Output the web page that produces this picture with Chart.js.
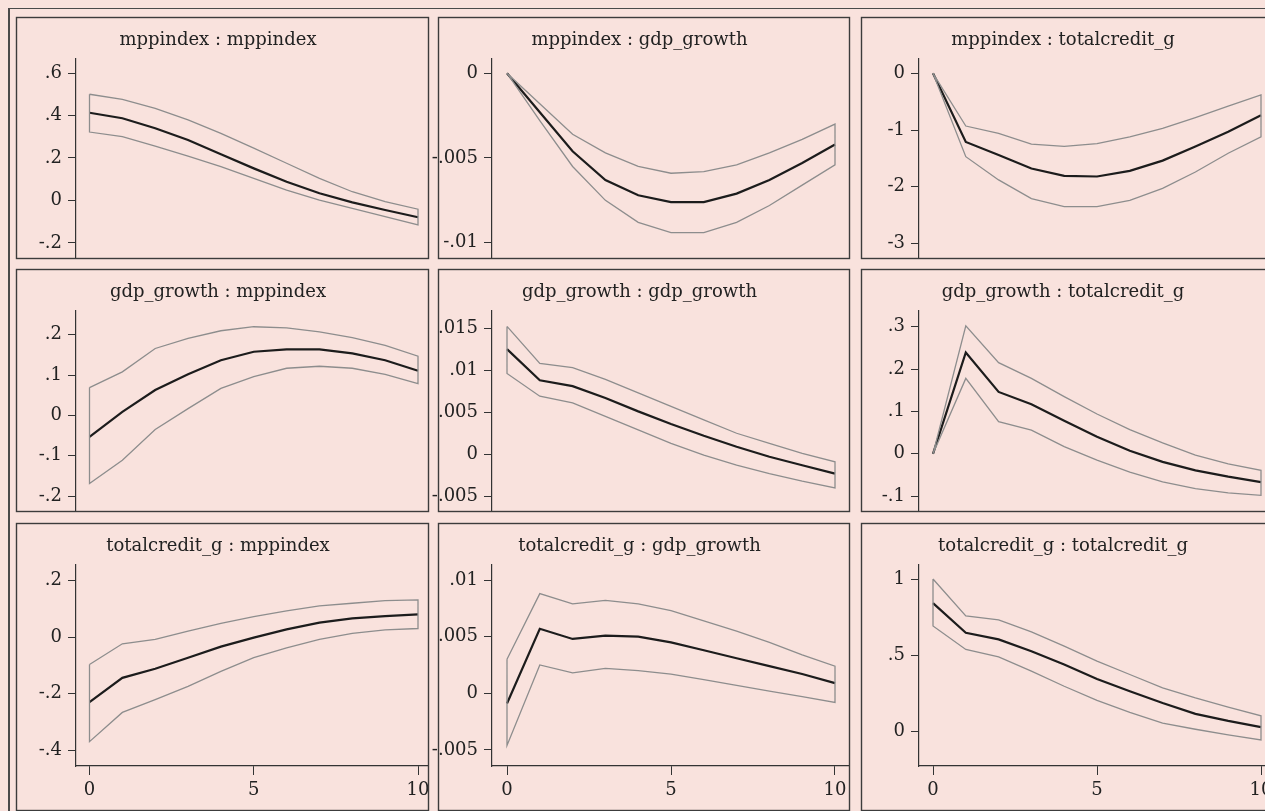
<!DOCTYPE html>
<html>
<head>
<meta charset="utf-8">
<script src="https://cdn.jsdelivr.net/npm/chart.js@4.4.1/dist/chart.umd.min.js"></script>
<style>
  html, body { margin: 0; padding: 0; background: #f9e2dd; }
  body { width: 1265px; height: 811px; position: relative; overflow: hidden; }
  #outer { position: absolute; left: 8px; top: 8px; width: 1400px; height: 900px;
           border-left: 2px solid #4a4a4a; border-top: 1.5px solid #4a4a4a; }
  canvas { position: absolute; }
</style>
</head>
<body>
<div id="outer"></div>
<script>
// horizon steps
const steps = [0, 1, 2, 3, 4, 5, 6, 7, 8, 9, 10];
const xTicks = [0, 5, 10];

// impulse : response titles (row = impulse, column = response)
const titles = [
  "mppindex : mppindex", "mppindex : gdp_growth", "mppindex : totalcredit_g",
  "gdp_growth : mppindex", "gdp_growth : gdp_growth", "gdp_growth : totalcredit_g",
  "totalcredit_g : mppindex", "totalcredit_g : gdp_growth", "totalcredit_g : totalcredit_g"
];

// mppindex -> mppindex
const irf_11 = [0.413, 0.387, 0.340, 0.285, 0.217, 0.151, 0.088, 0.034, -0.009, -0.045, -0.079];
const up_11  = [0.500, 0.476, 0.434, 0.379, 0.316, 0.246, 0.175, 0.104, 0.041, -0.006, -0.041];
const lo_11  = [0.322, 0.300, 0.256, 0.209, 0.159, 0.104, 0.049, 0.002, -0.037, -0.076, -0.115];
// mppindex -> gdp_growth
const irf_12 = [0, -0.0023, -0.0046, -0.0063, -0.0072, -0.0076, -0.0076, -0.0071, -0.0063, -0.0053, -0.0042];
const up_12  = [0, -0.0018, -0.0036, -0.0047, -0.0055, -0.0059, -0.0058, -0.0054, -0.0047, -0.0039, -0.0030];
const lo_12  = [0, -0.0028, -0.0055, -0.0075, -0.0088, -0.0094, -0.0094, -0.0088, -0.0078, -0.0066, -0.0054];
// mppindex -> totalcredit_g
const irf_13 = [0, -1.21, -1.44, -1.68, -1.81, -1.82, -1.72, -1.54, -1.29, -1.03, -0.74];
const up_13  = [0, -0.93, -1.06, -1.25, -1.29, -1.24, -1.12, -0.97, -0.78, -0.58, -0.38];
const lo_13  = [0, -1.47, -1.88, -2.21, -2.35, -2.35, -2.24, -2.03, -1.74, -1.41, -1.12];
// gdp_growth -> mppindex
const irf_21 = [-0.053, 0.009, 0.063, 0.102, 0.137, 0.158, 0.164, 0.164, 0.154, 0.137, 0.111];
const up_21  = [0.069, 0.108, 0.166, 0.191, 0.210, 0.220, 0.217, 0.207, 0.193, 0.174, 0.147];
const lo_21  = [-0.169, -0.111, -0.035, 0.017, 0.067, 0.096, 0.117, 0.122, 0.117, 0.102, 0.079];
// gdp_growth -> gdp_growth
const irf_22 = [0.0125, 0.0088, 0.0081, 0.0067, 0.0051, 0.0036, 0.0022, 0.0009, -0.0003, -0.0013, -0.0023];
const up_22  = [0.0152, 0.0108, 0.0103, 0.0089, 0.0073, 0.0057, 0.0041, 0.0025, 0.0013, 0.0001, -0.0009];
const lo_22  = [0.0096, 0.0069, 0.0061, 0.0045, 0.0029, 0.0013, -0.0001, -0.0013, -0.0023, -0.0032, -0.0040];
// gdp_growth -> totalcredit_g
const irf_23 = [0, 0.239, 0.146, 0.117, 0.078, 0.040, 0.007, -0.019, -0.039, -0.054, -0.067];
const up_23  = [0, 0.302, 0.215, 0.178, 0.135, 0.094, 0.057, 0.026, -0.003, -0.024, -0.039];
const lo_23  = [0, 0.178, 0.076, 0.056, 0.017, -0.015, -0.043, -0.066, -0.082, -0.092, -0.098];
// totalcredit_g -> mppindex
const irf_31 = [-0.230, -0.144, -0.112, -0.073, -0.034, -0.002, 0.027, 0.051, 0.066, 0.074, 0.080];
const up_31  = [-0.097, -0.024, -0.008, 0.021, 0.048, 0.072, 0.092, 0.110, 0.119, 0.128, 0.131];
const lo_31  = [-0.369, -0.266, -0.221, -0.174, -0.121, -0.073, -0.038, -0.008, 0.013, 0.025, 0.030];
// totalcredit_g -> gdp_growth
const irf_32 = [-0.0009, 0.0057, 0.0048, 0.0051, 0.0050, 0.0045, 0.0038, 0.0031, 0.0024, 0.0017, 0.0009];
const up_32  = [0.0030, 0.0088, 0.0079, 0.0082, 0.0079, 0.0073, 0.0064, 0.0055, 0.0045, 0.0034, 0.0024];
const lo_32  = [-0.0046, 0.0025, 0.0018, 0.0022, 0.0020, 0.0017, 0.0012, 0.0007, 0.0002, -0.0003, -0.0008];
// totalcredit_g -> totalcredit_g
const irf_33 = [0.842, 0.648, 0.604, 0.527, 0.440, 0.345, 0.264, 0.187, 0.116, 0.070, 0.029];
const up_33  = [1.000, 0.758, 0.732, 0.653, 0.560, 0.462, 0.374, 0.286, 0.220, 0.160, 0.103];
const lo_33  = [0.692, 0.538, 0.490, 0.396, 0.297, 0.204, 0.125, 0.055, 0.015, -0.022, -0.055];

// y tick labels per panel
const yTicks_11 = [-0.2, 0, 0.2, 0.4, 0.6];
const yTicks_12 = [-0.01, -0.005, 0];
const yTicks_13 = [-3, -2, -1, 0];
const yTicks_21 = [-0.2, -0.1, 0, 0.1, 0.2];
const yTicks_22 = [-0.005, 0, 0.005, 0.01, 0.015];
const yTicks_23 = [-0.1, 0, 0.1, 0.2, 0.3];
const yTicks_31 = [-0.4, -0.2, 0, 0.2];
const yTicks_32 = [-0.005, 0, 0.005, 0.01];
const yTicks_33 = [0, 0.5, 1];

// y axis limits per panel
const yRange_11 = [-0.271, 0.666];
const yRange_12 = [-0.0109, 0.00084];
const yRange_13 = [-3.257, 0.252];
const yRange_21 = [-0.237, 0.259];
const yRange_22 = [-0.00674, 0.01703];
const yRange_23 = [-0.135, 0.337];
const yRange_31 = [-0.455, 0.254];
const yRange_32 = [-0.00642, 0.01133];
const yRange_33 = [-0.226, 1.092];

const panels = [
  [irf_11, up_11, lo_11, yTicks_11, yRange_11],
  [irf_12, up_12, lo_12, yTicks_12, yRange_12],
  [irf_13, up_13, lo_13, yTicks_13, yRange_13],
  [irf_21, up_21, lo_21, yTicks_21, yRange_21],
  [irf_22, up_22, lo_22, yTicks_22, yRange_22],
  [irf_23, up_23, lo_23, yTicks_23, yRange_23],
  [irf_31, up_31, lo_31, yTicks_31, yRange_31],
  [irf_32, up_32, lo_32, yTicks_32, yRange_32],
  [irf_33, up_33, lo_33, yTicks_33, yRange_33]
];

// page layout (pixels)
const cols = [
  { l: 16, r: 428, axis: 76, x0: 89.5, x10: 418 },
  { l: 438, r: 849, axis: 492, x0: 507, x10: 835 },
  { l: 861, r: 1273, axis: 919, x0: 933, x10: 1261 }
];
const rows = [
  { t: 17, b: 258 },
  { t: 269, b: 511 },
  { t: 523, b: 810 }
];
const M = 8;          // canvas margin around each frame
const plotTop = 42;   // frame top -> y axis top
const xAxisH = 44;    // x axis band in bottom row
const FS = 18;

Chart.defaults.font.family = "'DejaVu Serif', serif";
Chart.defaults.font.size = FS;
Chart.defaults.color = "#222";

const fmt = (v) => String(v).replace(/^(-?)0\./, "$1.");

const framePlugin = {
  id: "frame",
  afterDraw(chart, args, opts) {
    const c = chart.ctx;
    c.save();
    c.strokeStyle = "#3c3c3c";
    c.lineWidth = 1.4;
    c.strokeRect(M + 0.5, M + 0.5, opts.w, opts.h);
    c.restore();
  }
};

// no automatic padding from edge labels
const noPad = (s) => { s.paddingTop = 0; s.paddingBottom = 0; s.paddingLeft = 0; s.paddingRight = 0; };

panels.forEach((p, k) => {
  const [irf, up, lo, yTicks, yRange] = p;
  const col = cols[k % 3];
  const row = rows[Math.floor(k / 3)];
  const bottomRow = k >= 6;

  const fw = col.r - col.l;
  const fh = row.b - row.t;
  const W = fw + 2 * M;
  const H = fh + 2 * M;

  const cv = document.createElement("canvas");
  cv.width = W;
  cv.height = H;
  cv.style.left = (col.l - M) + "px";
  cv.style.top = (row.t - M) + "px";
  document.body.appendChild(cv);

  const ppu = (col.x10 - col.x0) / 10;
  const xMin = -(col.x0 - col.axis) / ppu;
  const xMax = xMin + (col.r - col.axis) / ppu;

  // confidence band drawn as a closed outline
  const band = steps.map((s, i) => ({ x: s, y: up[i] }))
    .concat(steps.slice().reverse().map((s) => ({ x: s, y: lo[s] })));
  band.push({ x: steps[0], y: up[0] });

  const lh = FS * 1.2;
  new Chart(cv, {
    type: "scatter",
    data: {
      datasets: [
        { data: band, showLine: true, borderColor: "#8d8d8d", borderWidth: 1.3, pointRadius: 0, fill: false },
        { data: steps.map((s, i) => ({ x: s, y: irf[i] })), showLine: true, borderColor: "#1c1c1c", borderWidth: 2.2, pointRadius: 0, fill: false }
      ]
    },
    options: {
      responsive: false,
      animation: false,
      devicePixelRatio: 1,
      layout: { autoPadding: false, padding: { top: M, left: 0, right: M, bottom: M } },
      plugins: {
        legend: { display: false },
        tooltip: { enabled: false },
        title: {
          display: true,
          text: titles[k],
          font: { size: FS, weight: "normal" },
          color: "#222",
          padding: { top: 23 - lh / 2, bottom: plotTop - 23 - lh / 2 }
        },
        frame: { w: fw, h: fh }
      },
      scales: {
        x: {
          type: "linear",
          display: bottomRow,
          min: xMin,
          max: xMax,
          afterBuildTicks: (s) => { s.ticks = xTicks.map((v) => ({ value: v })); },
          afterFit: (s) => { s.height = bottomRow ? xAxisH : 0; noPad(s); },
          ticks: { padding: 5, callback: fmt, maxRotation: 0 },
          grid: { drawOnChartArea: false, drawTicks: true, tickLength: 9, color: "#333" },
          border: { display: true, color: "#333", width: 1.2 }
        },
        y: {
          type: "linear",
          min: yRange[0],
          max: yRange[1],
          afterBuildTicks: (s) => { s.ticks = yTicks.map((v) => ({ value: v })); },
          afterFit: (s) => { s.width = col.axis - (col.l - M); noPad(s); },
          ticks: { padding: 6, callback: fmt },
          grid: { drawOnChartArea: false, drawTicks: true, tickLength: 8, color: "#333" },
          border: { display: true, color: "#333", width: 1.2 }
        }
      }
    },
    plugins: [framePlugin]
  });
});
</script>
</body>
</html>
